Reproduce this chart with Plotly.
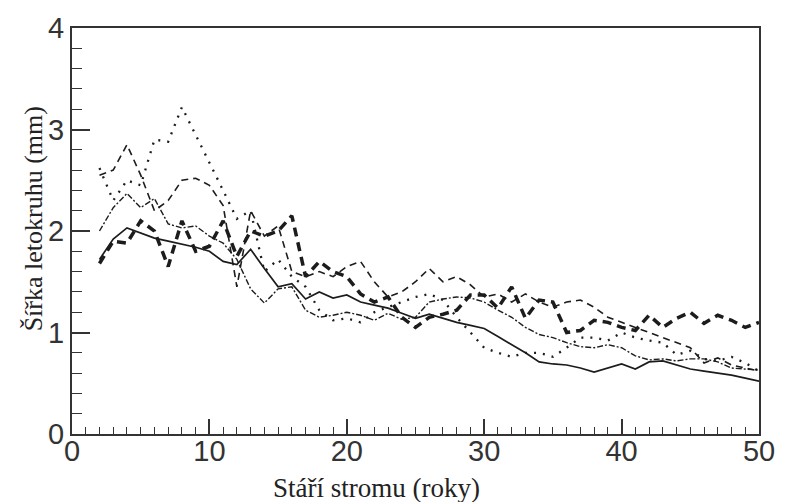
import plotly.graph_objects as go

# Tree age (years) for every ring-width series
age = list(range(2, 51))

# Mean ring width (mm) per series
solid_series = [1.72, 1.92, 2.03, 1.98, 1.93, 1.90, 1.87, 1.84, 1.80, 1.70,
                1.67, 1.82, 1.63, 1.45, 1.48, 1.33, 1.40, 1.34, 1.37, 1.30,
                1.27, 1.24, 1.19, 1.14, 1.18, 1.14, 1.10, 1.07, 1.04, 0.96,
                0.88, 0.80, 0.71, 0.69, 0.68, 0.65, 0.61, 0.65, 0.69, 0.64,
                0.71, 0.72, 0.68, 0.64, 0.62, 0.60, 0.58, 0.55, 0.52]

thin_dash_series = [2.55, 2.60, 2.85, 2.55, 2.20, 2.30, 2.50, 2.52, 2.45, 2.25,
                    1.45, 2.20, 1.95, 2.05, 1.60, 1.55, 1.60, 1.55, 1.65, 1.70,
                    1.50, 1.35, 1.40, 1.50, 1.63, 1.50, 1.55, 1.47, 1.35, 1.38,
                    1.30, 1.38, 1.30, 1.25, 1.30, 1.32, 1.25, 1.15, 1.10, 1.05,
                    1.00, 0.95, 0.90, 0.85, 0.70, 0.75, 0.68, 0.65, 0.62]

thick_dash_series = [1.68, 1.90, 1.88, 2.10, 2.00, 1.65, 2.10, 1.80, 1.85, 2.10,
                     1.75, 2.00, 1.95, 2.00, 2.15, 1.55, 1.70, 1.60, 1.55, 1.38,
                     1.30, 1.35, 1.15, 1.05, 1.15, 1.18, 1.22, 1.37, 1.37, 1.24,
                     1.45, 1.14, 1.32, 1.30, 1.00, 1.02, 1.12, 1.10, 1.05, 1.02,
                     1.17, 1.05, 1.14, 1.20, 1.09, 1.17, 1.12, 1.05, 1.10]

dotted_series = [2.62, 2.30, 2.50, 2.45, 2.90, 2.88, 3.22, 2.95, 2.68, 2.40,
                 2.12, 2.20, 1.60, 1.72, 1.55, 1.45, 1.22, 1.12, 1.14, 1.10,
                 1.20, 1.25, 1.30, 1.35, 1.38, 1.32, 1.15, 1.00, 0.85, 0.80,
                 0.76, 0.80, 0.80, 0.76, 0.85, 0.95, 0.95, 0.92, 1.00, 0.95,
                 0.92, 0.90, 0.78, 0.82, 0.74, 0.72, 0.76, 0.70, 0.62]

dashdot_series = [2.00, 2.23, 2.37, 2.23, 2.32, 2.07, 2.03, 2.05, 1.95, 1.88,
                  1.72, 1.43, 1.29, 1.43, 1.45, 1.22, 1.15, 1.17, 1.20, 1.17,
                  1.12, 1.19, 1.13, 1.15, 1.30, 1.33, 1.35, 1.34, 1.30, 1.22,
                  1.15, 1.05, 0.98, 0.95, 0.90, 0.86, 0.85, 0.88, 0.85, 0.77,
                  0.73, 0.74, 0.72, 0.74, 0.74, 0.71, 0.65, 0.64, 0.63]

INK = "#1c1c1c"

series = [
    (solid_series, dict(color=INK, width=1.7, dash="solid")),
    (thin_dash_series, dict(color=INK, width=1.6, dash="7px,5px")),
    (dotted_series, dict(color=INK, width=2.3, dash="2px,7px")),
    (dashdot_series, dict(color=INK, width=1.4, dash="6px,2px,2px,2px")),
    (thick_dash_series, dict(color=INK, width=3.5, dash="9px,6px")),
]

fig = go.Figure()
for values, line in series:
    fig.add_trace(go.Scatter(x=age, y=values, mode="lines", line=line,
                             showlegend=False, hoverinfo="skip"))

axis_common = dict(
    showgrid=False, zeroline=False,
    showline=True, mirror=True, linecolor="#333333", linewidth=2,
    ticks="inside", tickcolor="#333333", tickwidth=1.5,
    tickfont=dict(family="Liberation Sans, Arial, sans-serif", size=29, color="#333333"),
)

fig.update_layout(
    width=787, height=502,
    margin=dict(l=72, r=20, t=28, b=68),
    paper_bgcolor="white", plot_bgcolor="white",
    xaxis=dict(range=[0, 50], dtick=10, ticklen=15,
               minor=dict(dtick=1, ticklen=7, ticks="inside", tickcolor="#333333", tickwidth=1.2),
               ticklabelstandoff=-10, **axis_common),
    yaxis=dict(range=[0, 4], dtick=1, ticklen=18,
               minor=dict(dtick=0.2, ticklen=10, ticks="inside", tickcolor="#333333", tickwidth=1.2),
               ticklabelstandoff=0, **axis_common),
    annotations=[
        dict(text="Šířka letokruhu (mm)", textangle=-90, showarrow=False,
             xref="paper", yref="paper", x=-0.056, y=0.53,
             xanchor="center", yanchor="middle",
             font=dict(family="Liberation Serif, Times New Roman, serif", size=26, color="#222222")),
        dict(text="Stáří stromu (roky)", showarrow=False,
             xref="paper", yref="paper", x=0.443, y=-0.132,
             xanchor="center", yanchor="middle",
             font=dict(family="Liberation Serif, Times New Roman, serif", size=27, color="#222222")),
    ],
)

fig.write_html("out.html")
